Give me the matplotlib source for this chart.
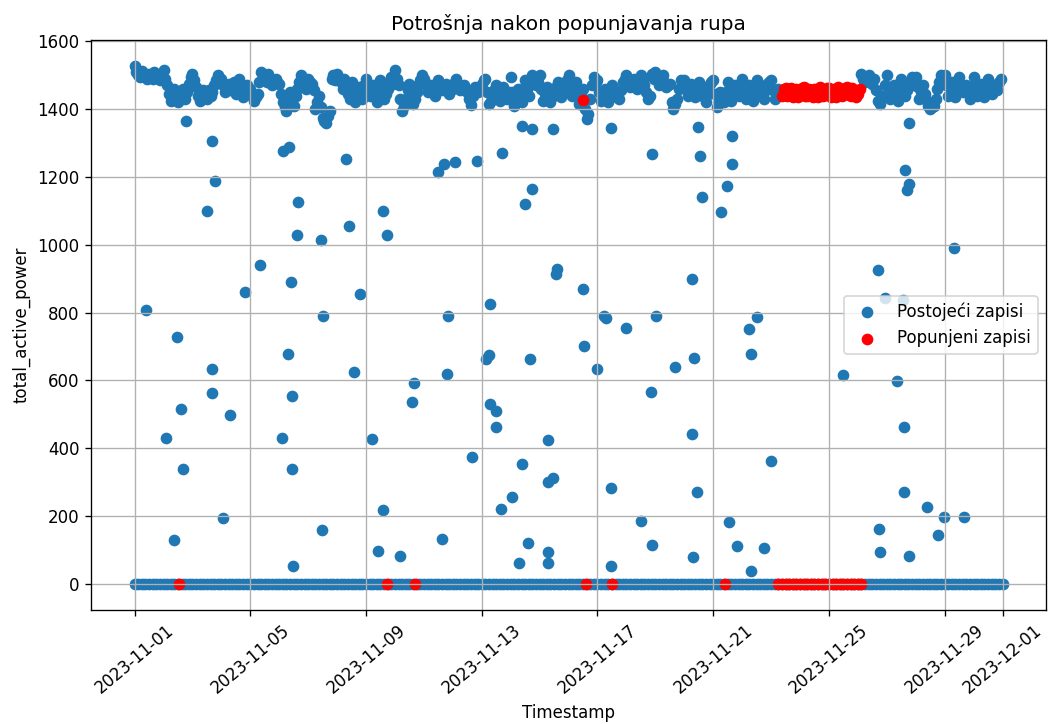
import numpy as np
import pandas as pd
import matplotlib.pyplot as plt

start = pd.Timestamp("2023-11-01")
nan = np.nan

# Main load band, one reading every 3 hours (8 per day); NaN = hole that was filled
band_values = [
    1528, 1500, 1512, 1495, 1505, 1490, 1500, 1485,  # 11-01
    1515, 1470, 1425, 1460, 1420, 1445, 1430, 1475,  # 11-02
    1505, 1465, 1425, 1455, 1430, 1440, 1470, 1500,  # 11-03
    1490, 1450, 1475, 1460, 1445, 1490, 1435, 1470,  # 11-04
    1460, 1425, 1445, 1510, 1495, 1505, 1470, 1490,  # 11-05
    1475, 1420, 1395, 1450, 1410, 1460, 1500, 1480,  # 11-06
    1490, 1475, 1400, 1440, 1375, 1360, 1395, 1500,  # 11-07
    1505, 1480, 1490, 1445, 1480, 1420, 1465, 1430,  # 11-08
    1490, 1440, 1470, 1420, 1485, 1430, 1460, 1495,  # 11-09
    1515, 1470, 1395, 1430, 1475, 1415, 1450, 1485,  # 11-10
    1490, 1450, 1470, 1440, 1485, 1455, 1475, 1445,  # 11-11
    1465, 1490, 1455, 1470, 1450, 1413, 1465, 1450,  # 11-12
    1475, 1490, 1415, 1440, 1470, 1425, 1465, 1430,  # 11-13
    1495, 1410, 1460, 1420, 1485, 1440, 1500, 1470,  # 11-14
    1500, 1425, 1465, 1420, 1445, 1480, 1435, 1470,  # 11-15
    1500, 1440, 1480, 1415, 1460, 1370, 1430, 1495,  # 11-16
    1485, 1425, 1460, 1420, 1470, 1440, 1430, 1480,  # 11-17
    1500, 1465, 1490, 1460, 1500, 1470, 1430, 1505,  # 11-18
    1510, 1470, 1500, 1465, 1475, 1400, 1430, 1485,  # 11-19
    1485, 1440, 1475, 1435, 1480, 1450, 1420, 1475,  # 11-20
    1485, 1405, 1450, 1420, 1480, 1425, 1470, 1440,  # 11-21
    1490, 1430, 1470, 1425, 1485, 1445, 1430, 1475,  # 11-22
    1485, 1430, 1460, nan, nan, nan, nan, nan,       # 11-23
    nan, nan, nan, nan, nan, nan, nan, nan,          # 11-24
    nan, nan, nan, nan, nan, nan, nan, nan,          # 11-25
    nan, 1505, 1480, 1500, 1475, 1455, 1415, 1440,   # 11-26
    1500, 1430, 1470, 1425, 1490, 1440, 1465, 1495,  # 11-27
    1495, 1430, 1470, 1425, 1400, 1410, 1460, 1500,  # 11-28
    1500, 1440, 1480, 1435, 1495, 1450, 1470, 1430,  # 11-29
    1495, 1440, 1475, 1435, 1490, 1445, 1470, 1480,  # 11-30
]
# readings in between (shifted by 1.5 h)
band_values_mid = [
    1510, 1495, 1505, 1488, 1498, 1508, 1492, 1500,  # 11-01
    1490, 1445, 1440, 1435, 1440, 1460, 1450, 1495,  # 11-02
    1485, 1440, 1445, 1435, 1455, 1450, 1485, 1480,  # 11-03
    1470, 1465, 1455, 1480, 1465, 1460, 1450, 1455,  # 11-04
    1440, 1435, 1480, 1490, 1480, 1485, 1485, 1480,  # 11-05
    1445, 1405, 1420, 1430, 1440, 1480, 1490, 1460,  # 11-06
    1480, 1455, 1420, 1405, 1365, 1380, 1490, 1485,  # 11-07
    1490, 1460, 1470, 1430, 1450, 1440, 1445, 1470,  # 11-08
    1465, 1455, 1440, 1450, 1460, 1445, 1480, 1475,  # 11-09
    1490, 1430, 1410, 1455, 1445, 1430, 1470, 1500,  # 11-10
    1470, 1460, 1455, 1460, 1470, 1465, 1460, 1455,  # 11-11
    1480, 1470, 1460, 1460, 1430, 1440, 1455, 1465,  # 11-12
    1485, 1450, 1425, 1455, 1445, 1450, 1445, 1450,  # 11-13
    1450, 1435, 1440, 1460, 1460, 1475, 1485, 1480,  # 11-14
    1460, 1445, 1440, 1435, 1465, 1455, 1450, 1485,  # 11-15
    1470, 1460, 1445, 1440, 1400, 1385, 1470, 1480,  # 11-16
    1450, 1440, 1440, 1445, 1455, 1435, 1455, 1490,  # 11-17
    1480, 1475, 1475, 1480, 1485, 1450, 1440, 1490,  # 11-18
    1490, 1485, 1480, 1470, 1420, 1415, 1460, 1470,  # 11-19
    1460, 1455, 1455, 1460, 1465, 1435, 1445, 1480,  # 11-20
    1445, 1425, 1435, 1450, 1450, 1445, 1455, 1460,  # 11-21
    1460, 1450, 1445, 1455, 1465, 1440, 1455, 1480,  # 11-22
    1455, 1445, nan, nan, nan, nan, nan, nan,        # 11-23
    nan, nan, nan, nan, nan, nan, nan, nan,          # 11-24
    nan, nan, nan, nan, nan, nan, nan, nan,          # 11-25
    nan, 1490, 1495, 1485, 1490, 1425, 1435, 1470,   # 11-26
    1465, 1450, 1445, 1460, 1465, 1455, 1480, 1470,  # 11-27
    1465, 1450, 1445, 1410, 1405, 1430, 1480, 1475,  # 11-28
    1470, 1460, 1455, 1465, 1470, 1465, 1450, 1460,  # 11-29
    1470, 1455, 1455, 1465, 1465, 1460, 1455, 1490,  # 11-30
]

# Scattered readings between 0 and the band (days since 2023-11-01, value)
outlier_days = [
    0.41, 1.10, 1.38, 1.48, 1.59, 1.69, 1.79, 2.52, 2.66, 2.66, 2.69, 2.79,
    3.07, 3.31, 3.83, 4.34, 5.10, 5.14, 5.34, 5.31, 5.41, 5.45, 5.45, 5.48,
    5.66, 5.62, 6.45, 6.48, 6.52, 7.31, 7.41, 7.59, 7.79, 8.20, 8.41, 8.59,
    8.59, 8.72, 9.17, 9.59, 9.66, 10.50, 10.62, 10.70, 10.79, 10.83, 11.07,
    11.66, 11.83, 12.24, 12.14, 12.28, 12.30, 12.50, 12.50, 12.66, 12.69,
    13.03, 13.30, 13.38, 13.38, 13.50, 13.60, 13.66, 13.72, 13.72, 14.28,
    14.30, 14.45, 14.28, 14.28, 14.45, 14.60, 14.57, 15.50, 15.52, 15.97,
    16.28, 16.22, 16.48, 16.48, 16.48, 16.97, 17.50, 17.86, 17.90, 17.90,
    18.03, 18.69, 19.28, 19.28, 19.30, 19.34, 19.45, 19.48, 19.55, 19.60,
    20.28, 20.48, 20.55, 20.66, 20.66, 20.83, 21.24, 21.31, 21.31, 21.52,
    21.76, 22.00, 24.50, 25.70, 25.72, 25.76, 25.93, 26.34, 26.55, 26.59,
    26.59, 26.62, 26.69, 26.76, 26.76, 26.76, 27.38, 27.76, 27.97, 28.31,
    28.66,
]
outlier_values = [
    808, 430, 130, 729, 515, 338, 1366, 1100, 1307, 632, 563, 1189,
    195, 497, 861, 941, 430, 1277, 1289, 678, 891, 555, 337, 53,
    1127, 1029, 1015, 159, 791, 1254, 1056, 625, 856, 428, 97, 218,
    1100, 1030, 82, 537, 593, 1215, 133, 1239, 620, 791, 1245,
    375, 1248, 676, 664, 826, 530, 510, 463, 220, 1271,
    257, 62, 354, 1351, 1121, 120, 664, 1165, 1342, 425,
    300, 312, 95, 62, 1342, 929, 914, 870, 702, 634,
    785, 789, 283, 53, 1345, 755, 186, 566, 115, 1268,
    791, 640, 442, 900, 80, 667, 271, 1348, 1263, 1142,
    1097, 1172, 183, 1239, 1321, 112, 752, 678, 38, 788,
    106, 363, 617, 926, 160, 94, 843, 599, 838, 463,
    271, 1221, 1162, 1180, 83, 1360, 227, 145, 198, 991,
    198,
]

# Filled records (red)
filled_band_values = [1440, 1462, 1448, 1436, 1458, 1445, 1465, 1438, 1452, 1460, 1437,
                      1455, 1442, 1463, 1447, 1436, 1459, 1444, 1464, 1439, 1453, 1446]
filled_band_values_mid = [1458, 1438, 1463, 1452, 1437, 1462, 1440, 1460, 1436, 1445, 1464,
                          1439, 1461, 1437, 1459, 1465, 1438, 1462, 1441, 1461, 1436, 1458]
filled_single_days = [1.52, 8.72, 9.69, 15.60, 16.50, 20.40, 15.50]
filled_single_values = [0, 0, 0, 0, 0, 0, 1428]

# ---- build series ----
band_times = start + pd.to_timedelta(np.arange(len(band_values)) * 3, unit="h")
band_mid_times = band_times + pd.Timedelta(minutes=90)
zero_times = pd.date_range("2023-11-01", "2023-12-01", freq="3h")
out_times = start + pd.to_timedelta(outlier_days, unit="D")

existing = pd.concat([
    pd.Series(band_values, index=band_times),
    pd.Series(band_values_mid, index=band_mid_times),
    pd.Series(0.0, index=zero_times),
    pd.Series(outlier_values, index=out_times, dtype=float),
]).dropna()

fill_band_times = pd.date_range("2023-11-23 09:00", periods=len(filled_band_values), freq="3h")
fill_zero_times = pd.date_range("2023-11-23 06:00", "2023-11-26 03:00", freq="3h")
fill_single_times = start + pd.to_timedelta(filled_single_days, unit="D")

filled = pd.concat([
    pd.Series(filled_band_values, index=fill_band_times, dtype=float),
    pd.Series(filled_band_values_mid, index=fill_band_times + pd.Timedelta(minutes=90), dtype=float),
    pd.Series(0.0, index=fill_zero_times),
    pd.Series(filled_single_values, index=fill_single_times, dtype=float),
])

# ---- plot ----
fig, ax = plt.subplots(figsize=(1048 / 120, 724 / 120), dpi=120)
ax.scatter(existing.index, existing.values, label="Postojeći zapisi")
ax.scatter(filled.index, filled.values, color="red", label="Popunjeni zapisi")

ax.set_title("Potrošnja nakon popunjavanja rupa")
ax.set_xlabel("Timestamp")
ax.set_ylabel("total_active_power")
ax.legend(loc="center right")
ax.grid(True)
plt.xticks(rotation=40)

fig.subplots_adjust(left=0.087, right=0.998, bottom=0.158, top=0.945)
fig.savefig("out.png", dpi=120)
